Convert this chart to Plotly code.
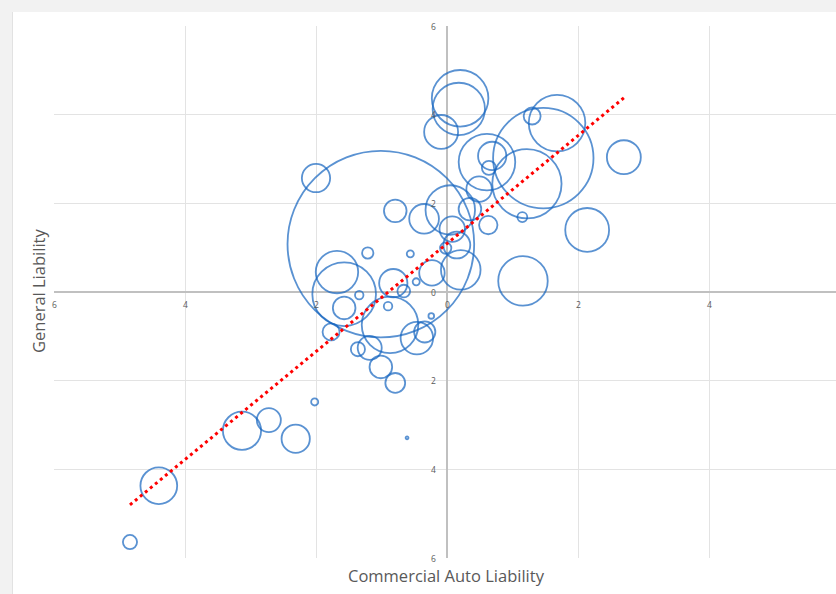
import numpy as np
import plotly.graph_objects as go

# Commercial Auto Liability (x), General Liability (y), bubble size value
commercial_auto = [0.20, 0.18, -0.09, 1.30, 1.68, 1.47, 1.22, 2.70, 0.61, 0.69, 0.64, 0.49,
                   0.63, 1.15, 2.14, 1.16, 0.05, 0.35, 0.08, 0.15, -0.02, 0.21, -0.23, -1.01,
                   -2.00, -0.79, -0.35, -1.21, -0.56, -1.68, -1.57, -1.34, -0.82, -0.66, -0.47,
                   -1.57, -0.87, -0.90, -0.46, -0.34, -0.24, -1.77, -1.36, -1.18, -1.01, -0.79,
                   -2.02, -0.61, -3.13, -2.72, -2.31, -4.40, -4.84]
general_liability = [4.37, 4.13, 3.61, 3.97, 3.81, 3.02, 2.44, 3.04, 2.93, 3.07, 2.80, 2.32,
                     1.51, 1.69, 1.40, 0.25, 1.85, 1.87, 1.42, 1.06, 0.99, 0.50, 0.43, 1.08,
                     2.57, 1.83, 1.65, 0.88, 0.86, 0.45, -0.05, -0.07, 0.20, 0.02, 0.23,
                     -0.36, -0.74, -0.32, -1.04, -0.90, -0.54, -0.90, -1.29, -1.26, -1.69, -2.05,
                     -2.48, -3.29, -3.13, -2.89, -3.31, -4.37, -5.64]
bubble_value = [16.0, 13.7, 5.76, 1.44, 16.0, 50.4, 24.0, 5.76, 16.0, 4.0, 1.0, 3.24,
                1.69, 0.49, 9.61, 12.25, 12.25, 2.56, 3.24, 3.61, 0.64, 7.84, 3.24, 174.2,
                4.0, 2.56, 4.41, 0.64, 0.25, 9.0, 20.25, 0.36, 4.0, 0.81, 0.25,
                2.56, 16.0, 0.36, 5.29, 2.25, 0.16, 1.44, 1.0, 2.89, 2.56, 1.96,
                0.25, 0.04, 7.29, 2.89, 4.0, 6.76, 1.0]

x_ticks = [-6, -4, -2, 0, 2, 4]
x_tick_text = ["6", "4", "2", "0", "2", "4"]
y_ticks = [-6, -4, -2, 0, 2, 4, 6]
y_tick_text = ["6", "4", "2", "0", "2", "4", "6"]

x = np.array(commercial_auto)
y = np.array(general_liability)
slope, intercept = np.polyfit(x, y, 1)
tx = np.array([x.min(), x.max()])
ty = slope * tx + intercept

fig = go.Figure()
fig.add_trace(go.Scatter(
    x=commercial_auto, y=general_liability, mode="markers",
    marker=dict(size=bubble_value, sizemode="area", sizeref=0.01,
                color="rgba(0,0,0,0)", line=dict(color="#1565c0", width=1.8)),
    hoverinfo="x+y", showlegend=False, cliponaxis=False))
fig.add_trace(go.Scatter(
    x=tx, y=ty, mode="lines",
    line=dict(color="#ff0000", width=3, dash="3px,3.5px"),
    hoverinfo="skip", showlegend=False))

L, R, T, B = 54, 0, 26, 36
W, H = 836, 594
pw, ph = W - L - R, H - T - B

def px2paper_x(p):
    return (p - L) / pw

def py2paper_y(p):
    return (H - B - p) / ph

shapes = [
    dict(type="rect", xref="paper", yref="paper", x0=px2paper_x(0), x1=px2paper_x(12),
         y0=py2paper_y(H), y1=py2paper_y(0), fillcolor="#f2f2f2", line=dict(width=0), layer="above"),
    dict(type="rect", xref="paper", yref="paper", x0=px2paper_x(0), x1=1.0,
         y0=py2paper_y(12), y1=py2paper_y(0), fillcolor="#f2f2f2", line=dict(width=0), layer="above"),
    dict(type="line", xref="paper", yref="paper", x0=px2paper_x(12.5), x1=px2paper_x(12.5),
         y0=py2paper_y(H), y1=py2paper_y(12), line=dict(color="#e2e2e2", width=1), layer="above"),
]

annotations = []
tick_font = dict(family="Open Sans, sans-serif", size=8.5, color="#595959")
for v, t in zip(x_ticks, x_tick_text):
    annotations.append(dict(x=v, y=0, xref="x", yref="y", text=t, showarrow=False,
                            yshift=-12, font=tick_font, xanchor="center", yanchor="middle",
                            borderpad=0))
for v, t in zip(y_ticks, y_tick_text):
    annotations.append(dict(x=0, y=v, xref="x", yref="y", text=t, showarrow=False,
                            xshift=-14, font=tick_font, xanchor="center", yanchor="middle",
                            borderpad=0))
title_font = dict(family="Open Sans, sans-serif", size=16.5, color="#595959")
annotations.append(dict(x=px2paper_x(38), y=py2paper_y(291), xref="paper", yref="paper",
                        text="General Liability", textangle=-90, showarrow=False,
                        font=title_font, xanchor="center", yanchor="middle", borderpad=0))
annotations.append(dict(x=-0.015, y=py2paper_y(575), xref="x", yref="paper",
                        text="Commercial Auto Liability", showarrow=False,
                        font=title_font, xanchor="center", yanchor="middle", borderpad=0))

fig.update_layout(
    width=W, height=H,
    margin=dict(l=L, r=R, t=T, b=B, pad=0),
    paper_bgcolor="white", plot_bgcolor="white",
    xaxis=dict(range=[-6, (836 - 447) / 65.5], tickvals=[-4, -2, 0, 2, 4], showticklabels=False,
               showgrid=True, gridcolor="#e3e3e3", gridwidth=1,
               zeroline=True, zerolinecolor="#c0c0c0", zerolinewidth=1.5, showline=False, ticks=""),
    yaxis=dict(range=[-6, 6], tickvals=y_ticks, showticklabels=False,
               showgrid=True, gridcolor="#e3e3e3", gridwidth=1,
               zeroline=True, zerolinecolor="#c0c0c0", zerolinewidth=1.5, showline=False, ticks=""),
    shapes=shapes, annotations=annotations,
)

fig.write_html("out.html", config={"displayModeBar": False},
               post_script="document.body.style.margin='0px';document.body.style.overflow='hidden';")
